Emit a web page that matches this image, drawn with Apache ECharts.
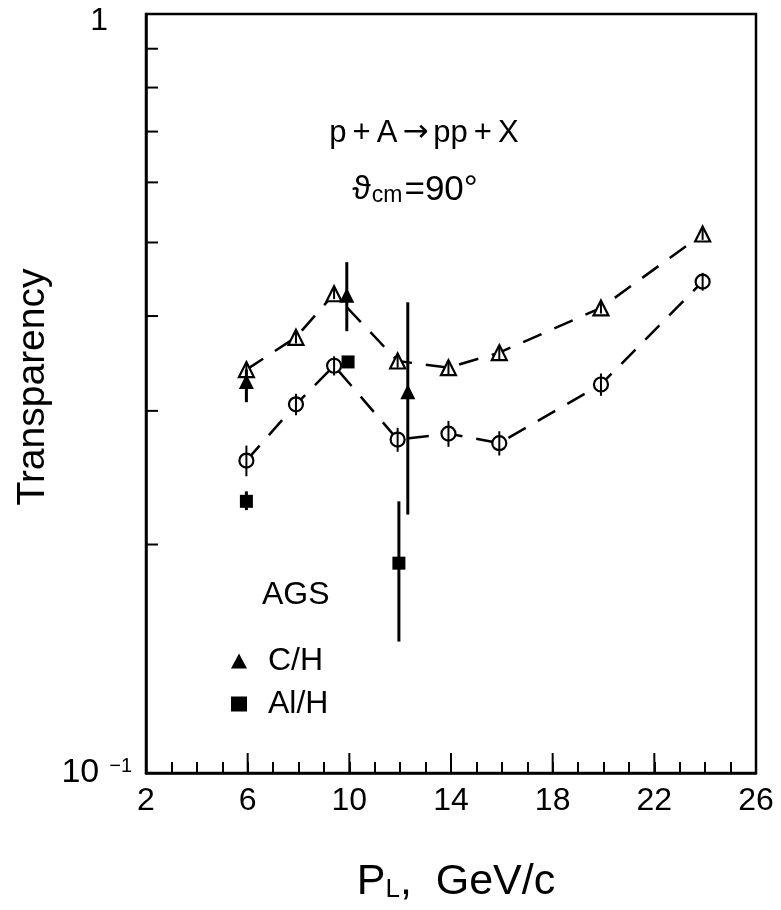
<!DOCTYPE html>
<html><head><meta charset="utf-8">
<script src="https://cdn.jsdelivr.net/npm/echarts@6/dist/echarts.min.js"></script>
<style>html,body{margin:0;padding:0;background:#fff}#c{width:781px;height:910px}</style>
</head><body><div id="c"></div>
<script>
// ---- data ----
const calcX      = [5.95, 7.9, 9.4, 11.9, 13.9, 15.9, 19.9, 23.9];
const calcTriY   = [0.340, 0.375, 0.428, 0.349, 0.342, 0.358, 0.410, 0.513];
const calcTriErr = [0.007, 0.007, 0.007, 0.007, 0.007, 0.007, 0.007, 0.009];
const calcCircY  = [0.258, 0.306, 0.344, 0.275, 0.280, 0.272, 0.325, 0.444];
const calcCircErr= [0.012, 0.010, 0.010, 0.010, 0.011, 0.010, 0.011, 0.012];

const agsCX    = [5.95, 9.9, 12.3];
const agsCY    = [0.328, 0.426, 0.318];
const agsCLow  = [0.308, 0.382, 0.219];
const agsCHigh = [0.340, 0.471, 0.417];

const agsAlX    = [5.95, 9.95, 11.95];
const agsAlY    = [0.228, 0.348, 0.189];
const agsAlLow  = [0.222, 0.348, 0.149];
const agsAlHigh = [0.235, 0.348, 0.228];

const xLabelValues = [2, 6, 10, 14, 18, 22, 26];
const xMajorTicks  = [6, 10, 14, 18, 22];
const yMinorTicks  = [0.2, 0.3, 0.4, 0.5, 0.6, 0.7, 0.8, 0.9];

// ---- helpers ----
const FONT = '"Liberation Sans", "DejaVu Sans", Arial, sans-serif';
const DJV = '"DejaVu Sans", sans-serif';
const pts = (xs, ys) => xs.map((x, i) => [x, ys[i]]);
const errSym = (xs, ys, es) => xs.map((x, i) => [x, ys[i] - es[i], ys[i] + es[i]]);
const errLH = (xs, lo, hi) => xs.map((x, i) => [x, lo[i], hi[i]]);

function errorBarSeries(data, width, z) {
  return {
    type: 'custom', z: z, silent: true,
    data: data,
    encode: { x: 0, y: [1, 2] },
    renderItem: function (params, api) {
      const p1 = api.coord([api.value(0), api.value(1)]);
      const p2 = api.coord([api.value(0), api.value(2)]);
      return { type: 'line', shape: { x1: p1[0], y1: p1[1], x2: p2[0], y2: p2[1] },
               style: { stroke: '#000', lineWidth: width } };
    }
  };
}

const chart = echarts.init(document.getElementById('c'), null, { renderer: 'canvas' });

const option = {
  backgroundColor: '#fff',
  animation: false,
  grid: { left: 146, right: 25, top: 14, bottom: 137, show: true,
          borderColor: '#000', borderWidth: 2.5, backgroundColor: 'transparent' },
  xAxis: {
    type: 'value', min: 2, max: 26, interval: 1,
    axisLine: { show: true, lineStyle: { color: '#000', width: 2.5 } },
    axisTick: { show: true, inside: true, length: 11, lineStyle: { color: '#000', width: 2 } },
    splitLine: { show: false },
    axisLabel: {
      color: '#000', fontSize: 32, fontFamily: FONT, margin: 12,
      formatter: v => xLabelValues.indexOf(v) >= 0 ? String(v) : ''
    }
  },
  yAxis: {
    type: 'log', logBase: 10, min: 0.1, max: 1,
    axisLine: { show: true, lineStyle: { color: '#000', width: 2.5 } },
    axisTick: { show: false },
    splitLine: { show: false },
    axisLabel: {
      color: '#000', fontFamily: FONT, margin: 14,
      formatter: v => v > 0.5 ? '{one|1}' : '{ten|10}{sup|−1}',
      rich: {
        one: { fontSize: 32, fontFamily: FONT, color: '#000', padding: [14, 24, 0, 0] },
        ten: { fontSize: 34, fontFamily: FONT, color: '#000', padding: [0, 10, 0, 0] },
        sup: { fontSize: 20, fontFamily: FONT, color: '#000', padding: [0, 0, 14, 0] }
      }
    }
  },
  legend: {
    left: 226, top: 640, orient: 'vertical',
    itemWidth: 16, itemHeight: 15, itemGap: 11,
    selectedMode: false,
    data: ['C/H', 'Al/H'],
    textStyle: { color: '#000', fontSize: 32, fontFamily: FONT, padding: [0, 0, 0, 16] }
  },
  graphic: [
    { type: 'text', x: 424, y: 133,
      style: { text: '{a|p}{o|+}{a|A}{r|→}{a|pp}{o|+}{a|X}', align: 'center', verticalAlign: 'middle',
               rich: {
                 a: { fontSize: 31, fontFamily: FONT, fill: '#000' },
                 o: { fontSize: 31, fontFamily: FONT, fill: '#000', padding: [0, 6, 0, 6] },
                 r: { fontSize: 31, fontFamily: DJV, fill: '#000', padding: [0, 5, 0, 5] }
               } } },
    { type: 'text', x: 415, y: 190,
      style: { text: '{th|ϑ}{sub|cm}{eq|=90°}', align: 'center', verticalAlign: 'middle',
               rich: {
                 th: { fontSize: 34, fontFamily: FONT, fill: '#000' },
                 sub: { fontSize: 23, fontFamily: FONT, fill: '#000', padding: [12, 2, 0, 1] },
                 eq: { fontSize: 35, fontFamily: FONT, fill: '#000' }
               } } },
    { type: 'text', x: 262, y: 595,
      style: { text: 'AGS', fontSize: 32, fontFamily: FONT, fill: '#000',
               align: 'left', verticalAlign: 'middle' } },
    { type: 'text', x: 33, y: 387, rotation: Math.PI / 2,
      style: { text: 'Transparency', fontSize: 39, fontFamily: FONT, fill: '#000',
               align: 'center', verticalAlign: 'middle' } },
    { type: 'text', x: 456, y: 882,
      style: { text: '{p|P}{sub|L}{p|,  GeV/c}', align: 'center', verticalAlign: 'middle',
               rich: {
                 p: { fontSize: 43, fontFamily: FONT, fill: '#000' },
                 sub: { fontSize: 26, fontFamily: FONT, fill: '#000', padding: [16, 0, 0, 0] }
               } } }
  ],
  series: [
    // calculated curve, open triangles
    { name: 'calcC', type: 'line', z: 3, data: pts(calcX, calcTriY),
      symbol: 'triangle', symbolSize: 15, showAllSymbol: true,
      lineStyle: { color: '#000', width: 2.5, type: [20, 14] },
      itemStyle: { color: '#fff', borderColor: '#000', borderWidth: 2.2 } },
    // calculated curve, open circles
    { name: 'calcAl', type: 'line', z: 3, data: pts(calcX, calcCircY),
      symbol: 'circle', symbolSize: 14, showAllSymbol: true,
      lineStyle: { color: '#000', width: 2.5, type: [20, 14] },
      itemStyle: { color: '#fff', borderColor: '#000', borderWidth: 2.2 } },
    errorBarSeries(errSym(calcX, calcTriY, calcTriErr), 2, 4),
    errorBarSeries(errSym(calcX, calcCircY, calcCircErr), 2, 4),
    // AGS data
    { name: 'C/H', type: 'scatter', z: 5, data: pts(agsCX, agsCY),
      symbol: 'triangle', symbolSize: 15, itemStyle: { color: '#000', opacity: 1 } },
    { name: 'Al/H', type: 'scatter', z: 5, data: pts(agsAlX, agsAlY),
      symbol: 'rect', symbolSize: 13, itemStyle: { color: '#000', opacity: 1 } },
    errorBarSeries(errLH(agsCX, agsCLow, agsCHigh), 3, 5),
    errorBarSeries(errLH(agsAlX, agsAlLow, agsAlHigh), 3, 5),
    // longer major ticks on the x axis
    { type: 'custom', z: 6, silent: true, data: xMajorTicks.map(x => [x, 0.1]),
      encode: { x: 0, y: 1 },
      renderItem: function (params, api) {
        const p = api.coord([api.value(0), api.value(1)]);
        return { type: 'line', shape: { x1: p[0], y1: p[1], x2: p[0], y2: p[1] - 20 },
                 style: { stroke: '#000', lineWidth: 2 } };
      } },
    // minor ticks on the log y axis
    { type: 'custom', z: 6, silent: true, data: yMinorTicks.map(v => [2, v]),
      encode: { x: 0, y: 1 },
      renderItem: function (params, api) {
        const p = api.coord([api.value(0), api.value(1)]);
        return { type: 'line', shape: { x1: p[0], y1: p[1], x2: p[0] + 12, y2: p[1] },
                 style: { stroke: '#000', lineWidth: 2 } };
      } }
  ]
};
chart.setOption(option);
</script>
</body></html>
